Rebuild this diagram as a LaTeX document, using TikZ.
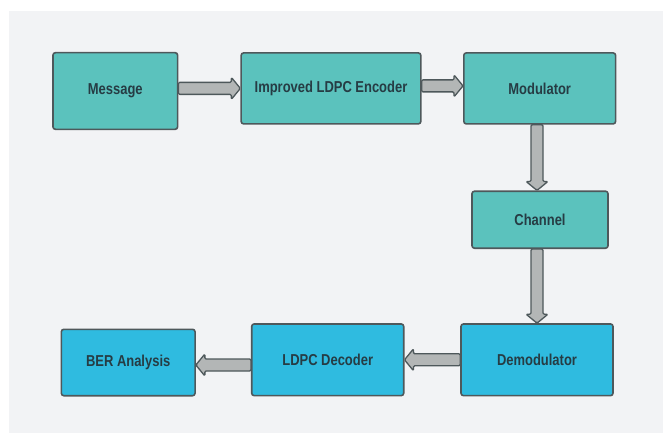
\documentclass[tikz,border=0pt]{standalone}
\usepackage{fontspec}
\setmainfont{Liberation Sans}[FakeStretch=0.82]
\usetikzlibrary{calc}
\definecolor{bgc}{HTML}{F2F3F5}
\definecolor{tealc}{HTML}{5BC2BD}
\definecolor{bluec}{HTML}{2FBBE0}
\definecolor{edgec}{HTML}{4E585B}
\definecolor{txtc}{HTML}{263C44}
\definecolor{arrc}{HTML}{B3B6B6}
\tikzset{
  blk/.style={draw=edgec, line width=1.6pt, rounded corners=2.5pt, inner sep=0pt,
    font=\fontsize{15.8}{18}\selectfont\bfseries, text=txtc},
  tealbox/.style={blk, fill=tealc},
  bluebox/.style={blk, fill=bluec},
  barrow/.style={draw=edgec, fill=arrc, line width=1.3pt, rounded corners=1.2pt, line join=round}
}
% right-pointing block arrow from #1.east to #2.west, vertical offset #3
\newcommand\arrR[3]{\draw[barrow] let \p1=(#1.east), \p2=(#2.west) in
  (\x1,\y2+#3+6pt) -- (\x2-9pt,\y2+#3+6pt) -- (\x2-9pt,\y2+#3+11pt) -- (\x2,\y2+#3)
  -- (\x2-9pt,\y2+#3-11pt) -- (\x2-9pt,\y2+#3-6pt) -- (\x1,\y2+#3-6pt) -- cycle;}
\newcommand\arrL[3]{\draw[barrow] let \p1=(#1.west), \p2=(#2.east) in
  (\x1,\y2+#3+6pt) -- (\x2+9pt,\y2+#3+6pt) -- (\x2+9pt,\y2+#3+11pt) -- (\x2,\y2+#3)
  -- (\x2+9pt,\y2+#3-11pt) -- (\x2+9pt,\y2+#3-6pt) -- (\x1,\y2+#3-6pt) -- cycle;}
\newcommand\arrD[3]{\draw[barrow] let \p1=(#1.south), \p2=(#2.north) in
  (\x2+#3+6pt,\y1) -- (\x2+#3+6pt,\y2+9pt) -- (\x2+#3+11pt,\y2+9pt) -- (\x2+#3,\y2)
  -- (\x2+#3-11pt,\y2+9pt) -- (\x2+#3-6pt,\y2+9pt) -- (\x2+#3-6pt,\y1) -- cycle;}
\begin{document}
\begin{tikzpicture}[x=1pt, y=-1pt]
  \useasboundingbox (0,0) rectangle (663,433);
  \fill[white] (0,0) rectangle (663,433);
  \fill[bgc] (8.5,11) rectangle (663,433);

  \node[tealbox, minimum width=124.7pt, minimum height=76.6pt] (msg) at (115.3,91) {Message};
  \node[tealbox, minimum width=179.7pt, minimum height=71pt] (enc) at (331,88.4) {Improved LDPC Encoder};
  \node[tealbox, minimum width=151.8pt, minimum height=71pt] (mod) at (539.7,88.4) {Modulator};
  \node[tealbox, minimum width=136pt, minimum height=57pt] (chn) at (540,219.7) {Channel};
  \node[bluebox, minimum width=152pt, minimum height=71.7pt] (dem) at (537,359.8) {Demodulator};
  \node[bluebox, minimum width=152pt, minimum height=71.7pt] (dec) at (327.7,359.8) {LDPC Decoder};
  \node[bluebox, minimum width=133.7pt, minimum height=66.4pt] (ber) at (128.2,362.5) {BER Analysis};

  \arrR{msg}{enc}{0pt}
  \arrR{enc}{mod}{2.5pt}
  \arrD{mod}{chn}{-3pt}
  \arrD{chn}{dem}{0pt}
  \arrL{dem}{dec}{0pt}
  \arrL{dec}{ber}{-2.5pt}
\end{tikzpicture}
\end{document}
